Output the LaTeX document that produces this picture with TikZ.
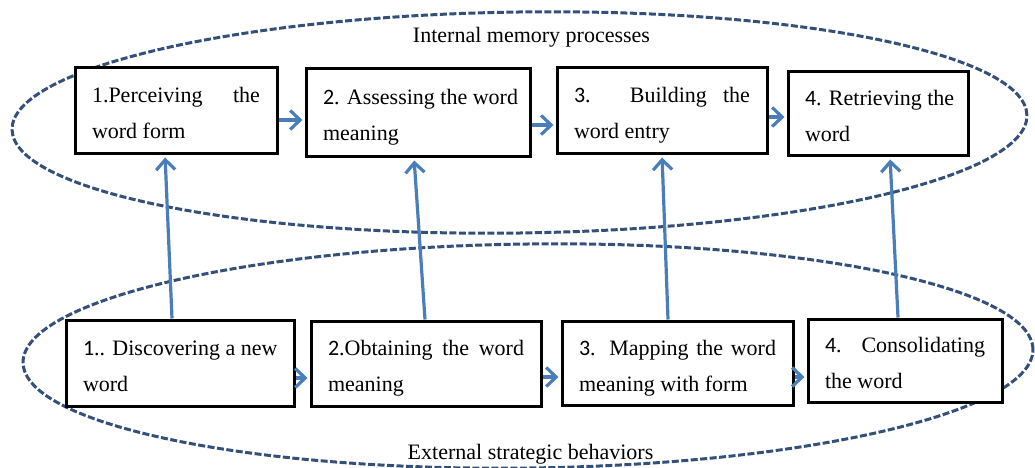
\documentclass[tikz,border=0pt]{standalone}
\usepackage{fontspec}
\setmainfont{Liberation Serif}
\newfontfamily\numfont{Carlito}
\usetikzlibrary{arrows.meta,calc}
\definecolor{ellc}{RGB}{52,80,122}
\definecolor{arrc}{RGB}{74,126,187}
\newcommand\botstrut{\rule[-4.8pt]{0pt}{1pt}}
\begin{document}
\begin{tikzpicture}[x=1pt,y=-1pt,
  stepbox/.style={draw=black, line width=3pt, fill=white, inner xsep=17pt, inner ysep=0pt,
    align=justify, font=\fontsize{22}{36}\selectfont},
  lbl/.style={inner sep=0pt, font=\fontsize{22}{26}\selectfont},
  ellline/.style={draw=ellc, line width=3pt, dash pattern=on 7pt off 2.5pt},
  arr/.style={draw=arrc, line width=3.2pt, -{Straight Barb[length=10pt,width=19pt]}, shorten >=2pt}
]
\useasboundingbox (0,0) rectangle (1035,468);

% ellipses
\draw[ellline, rotate around={0.8:(519.5,122.5)}] (519.5,122.5) ellipse [x radius=507.5pt, y radius=110.5pt];
\draw[ellline, rotate around={0.75:(528,356)}] (528,356) ellipse [x radius=505pt, y radius=112pt];

% labels
\node[lbl, anchor=base] (intl) at (531.5,43) {Internal memory processes};
\node[lbl, anchor=base] (extl) at (530.5,459) {External strategic behaviors};

% top boxes
\node[stepbox, minimum width=202pt, minimum height=85pt, text width=168pt] (t1) at (176,110.5)
  {\strut 1.Perceiving the\linebreak word form\botstrut};
\node[stepbox, minimum width=224pt, minimum height=87pt, text width=190pt] (t2) at (418,112.5)
  {\strut\mbox{{\numfont 2}. Assessing the word}\\ meaning\botstrut};
\node[stepbox, minimum width=210pt, minimum height=85pt, text width=176pt] (t3) at (662,110.5)
  {\strut{\numfont 3}. Building the\linebreak word entry\botstrut};
\node[stepbox, minimum width=180pt, minimum height=83pt, text width=146pt] (t4) at (878,113.5)
  {\strut\mbox{{\numfont 4}. Retrieving the}\\ word\botstrut};

% bottom boxes
\node[stepbox, minimum width=228pt, minimum height=86pt, text width=194pt] (b1) at (180,363)
  {\strut\mbox{{\numfont 1}.. Discovering a new}\\ word\botstrut};
\node[stepbox, minimum width=230pt, minimum height=85pt, text width=196pt] (b2) at (426,363.5)
  {\strut{\numfont 2}.Obtaining the word\linebreak meaning\botstrut};
\node[stepbox, minimum width=231pt, minimum height=84pt, text width=197pt] (b3) at (677.5,363)
  {\strut{\numfont 3}. Mapping the word\linebreak meaning with form\botstrut};
\node[stepbox, minimum width=194pt, minimum height=83pt, text width=160pt] (b4) at (905,360.5)
  {\strut{\numfont 4}. Consolidating\linebreak the word\botstrut};

% horizontal arrows (top)
\draw[arr] ([yshift=-9.5pt]t1.east) -- ([yshift=-9.5pt]t1.east -| t2.west);
\draw[arr] ([yshift=-12.5pt]t2.east) -- ([yshift=-12.5pt]t2.east -| t3.west);
\draw[arr] ([yshift=-6.5pt]t3.east) -- ([yshift=-6.5pt]t3.east -| t4.west);

% horizontal arrows (bottom)
\draw[arr] ([yshift=-15pt]b1.east) -- ([yshift=-15pt]b1.east -| b2.west);
\draw[arr] ([yshift=-13.5pt]b2.east) -- ([yshift=-13.5pt]b2.east -| b3.west);
\draw[arr] ([yshift=-14pt]b3.east) -- ([yshift=-14pt]b3.east -| b4.west);

% vertical arrows
\draw[arr, shorten >=3pt] ([xshift=-8pt]b1.north) -- ([xshift=-11pt]t1.south);
\draw[arr, shorten >=3pt] ([xshift=-1pt]b2.north) -- ([xshift=-4pt]t2.south);
\draw[arr, shorten >=3pt] ([xshift=-9.5pt]b3.north) -- ([xshift=0pt]t3.south);
\draw[arr, shorten >=3pt] ([xshift=-7pt]b4.north) -- ([xshift=12pt]t4.south);
\end{tikzpicture}
\end{document}
